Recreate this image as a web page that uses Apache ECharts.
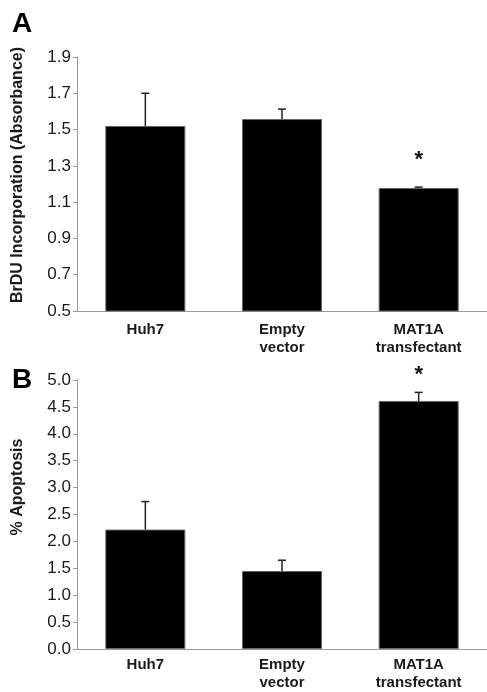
<!DOCTYPE html>
<html>
<head>
<meta charset="utf-8">
<script src="https://cdn.jsdelivr.net/npm/echarts@6/dist/echarts.min.js"></script>
<style>html,body{margin:0;padding:0;background:#fff;}#c{width:487px;height:692px;}</style>
</head>
<body>
<div id="c"></div>
<script>
var categories = ['Huh7', 'Empty\nvector', 'MAT1A\ntransfectant'];
// Panel A: BrDU incorporation
var brduMean = [1.52, 1.558, 1.178];
var brduErrTop = [1.70, 1.613, 1.183];
var brduSig = [null, null, 1.33];
var brduTicks = {min: 0.5, max: 1.9, interval: 0.2};
// Panel B: % apoptosis
var apopMean = [2.22, 1.45, 4.61];
var apopErrTop = [2.74, 1.65, 4.77];
var apopSig = [null, null, 5.09];
var apopTicks = {min: 0, max: 5, interval: 0.5};

var chart = echarts.init(document.getElementById('c'), null, {renderer: 'canvas'});
var FONT = 'Liberation Sans, Arial, sans-serif';
var TXT = '#1a1a1a';
var AX = '#9a9a9a';

function errData(means, tops) {
  return means.map(function (m, i) { return [i, m, tops[i]]; });
}
function sigData(sig) {
  var out = [];
  sig.forEach(function (v, i) { if (v != null) out.push([i, v]); });
  return out;
}
function errRender(params, api) {
  var p0 = api.coord([api.value(0), api.value(1)]);
  var p1 = api.coord([api.value(0), api.value(2)]);
  var cap = 4;
  return {
    type: 'group',
    children: [
      {type: 'line', shape: {x1: p0[0], y1: p0[1], x2: p1[0], y2: p1[1]}, style: {stroke: '#222', lineWidth: 1.5}},
      {type: 'line', shape: {x1: p1[0] - cap, y1: p1[1], x2: p1[0] + cap, y2: p1[1]}, style: {stroke: '#222', lineWidth: 1.5}}
    ]
  };
}
function sigRender(params, api) {
  var p = api.coord([api.value(0), api.value(1)]);
  return {type: 'text', x: p[0], y: p[1], style: {text: '*', fill: '#111', font: 'bold 22px ' + FONT, align: 'center', verticalAlign: 'middle'}};
}

function yAxis(gridIndex, t) {
  return {
    type: 'value', gridIndex: gridIndex, min: t.min, max: t.max, interval: t.interval,
    axisLine: {show: true, lineStyle: {color: AX, width: 1}},
    axisTick: {show: true, length: 4, lineStyle: {color: AX}},
    splitLine: {show: false},
    axisLabel: {color: TXT, fontSize: 17, fontFamily: FONT, margin: 6, formatter: function (v) { return v.toFixed(1); }}
  };
}
function xAxis(gridIndex, margin) {
  return {
    type: 'category', gridIndex: gridIndex, data: categories,
    axisLine: {show: true, lineStyle: {color: AX, width: 1}},
    axisTick: {show: false},
    axisLabel: {color: TXT, fontSize: 15, fontWeight: 'bold', fontFamily: FONT, margin: margin, lineHeight: 18, interval: 0}
  };
}

var option = {
  animation: false,
  backgroundColor: '#fff',
  grid: [
    {left: 77, top: 57, width: 412, height: 254},
    {left: 77, top: 380, width: 412, height: 272}
  ],
  xAxis: [xAxis(0, 10), xAxis(1, 7)],
  yAxis: [yAxis(0, brduTicks), yAxis(1, apopTicks)],
  series: [
    {type: 'bar', xAxisIndex: 0, yAxisIndex: 0, data: brduMean, barWidth: 80,
      itemStyle: {color: '#000', borderColor: '#666', borderWidth: 1}},
    {type: 'custom', xAxisIndex: 0, yAxisIndex: 0, data: errData(brduMean, brduErrTop), renderItem: errRender, z: 3},
    {type: 'custom', xAxisIndex: 0, yAxisIndex: 0, data: sigData(brduSig), renderItem: sigRender, clip: false, z: 3},
    {type: 'bar', xAxisIndex: 1, yAxisIndex: 1, data: apopMean, barWidth: 80,
      itemStyle: {color: '#000', borderColor: '#666', borderWidth: 1}},
    {type: 'custom', xAxisIndex: 1, yAxisIndex: 1, data: errData(apopMean, apopErrTop), renderItem: errRender, z: 3},
    {type: 'custom', xAxisIndex: 1, yAxisIndex: 1, data: sigData(apopSig), renderItem: sigRender, clip: false, z: 3}
  ],
  graphic: [
    {type: 'text', left: 12, top: 10, style: {text: 'A', fill: '#000', font: 'bold 28px ' + FONT}},
    {type: 'text', left: 12, top: 366, style: {text: 'B', fill: '#000', font: 'bold 28px ' + FONT}},
    {type: 'text', x: 17.5, y: 175, rotation: Math.PI / 2,
      style: {text: 'BrDU Incorporation (Absorbance)', fill: TXT, font: 'bold 16px ' + FONT, align: 'center', verticalAlign: 'middle'}},
    {type: 'text', x: 17.5, y: 487, rotation: Math.PI / 2,
      style: {text: '% Apoptosis', fill: TXT, font: 'bold 16px ' + FONT, align: 'center', verticalAlign: 'middle'}}
  ]
};
chart.setOption(option);
</script>
</body>
</html>
